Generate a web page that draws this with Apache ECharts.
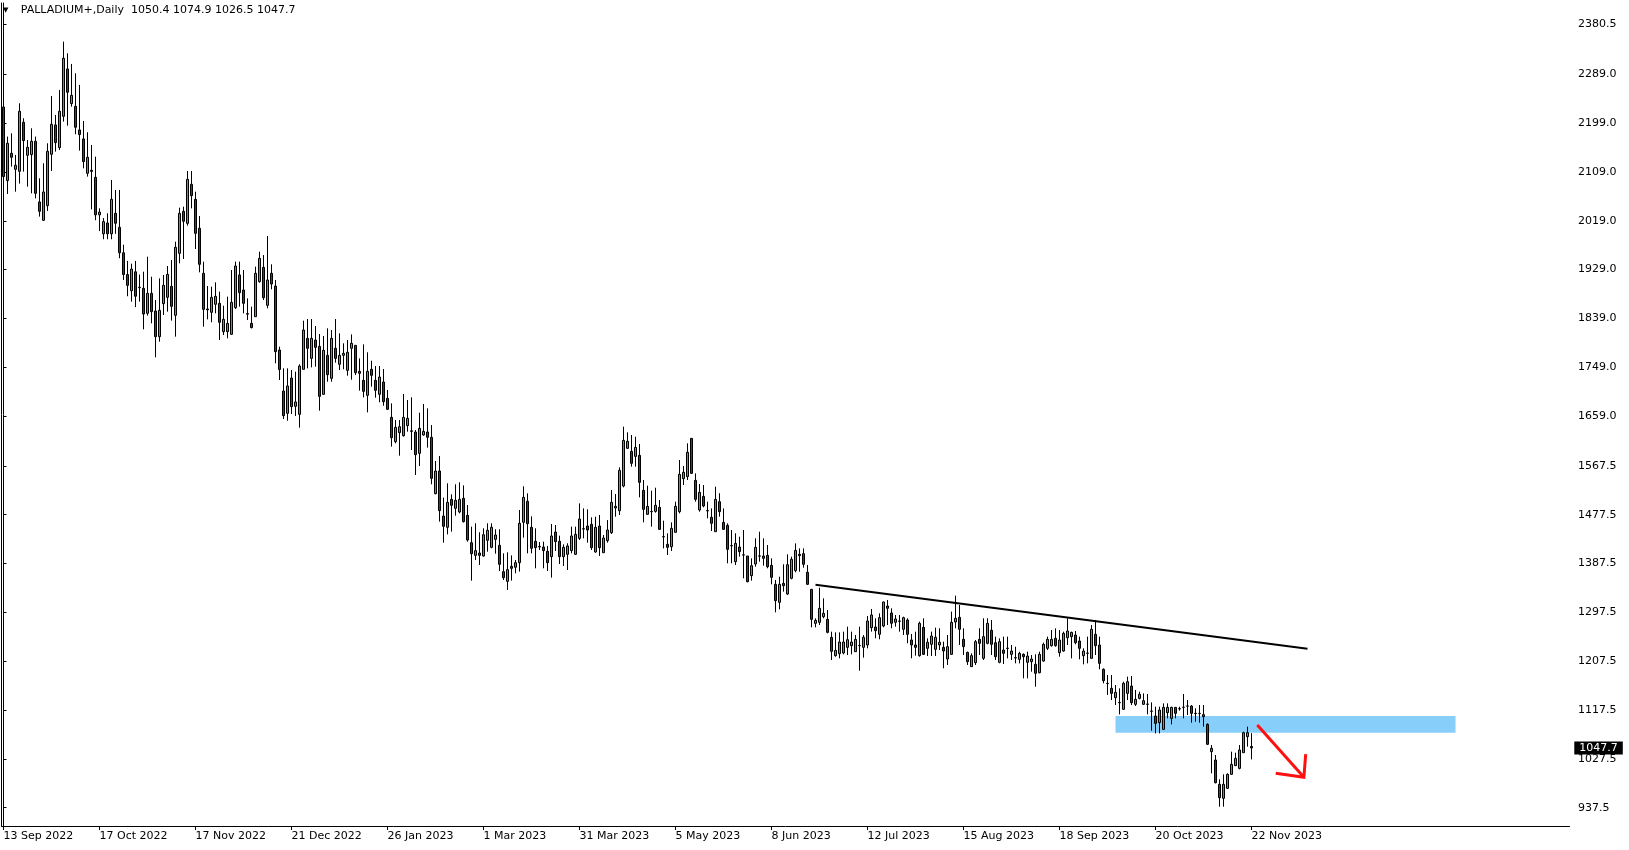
<!DOCTYPE html>
<html><head><meta charset="utf-8">
<script src="https://cdn.jsdelivr.net/npm/echarts@6/dist/echarts.min.js"></script>
<style>html,body{margin:0;padding:0;background:#fff;}#c{width:1629px;height:850px;}</style>
</head><body><div id="c"></div>
<script>
const headerText = 'PALLADIUM+,Daily  1050.4 1074.9 1026.5 1047.7';
const dateLabels = ['13 Sep 2022','17 Oct 2022','17 Nov 2022','21 Dec 2022','26 Jan 2023','1 Mar 2023','31 Mar 2023','5 May 2023','8 Jun 2023','12 Jul 2023','15 Aug 2023','18 Sep 2023','20 Oct 2023','22 Nov 2023'];
const priceTicks = [937.5,1027.5,1117.5,1207.5,1297.5,1387.5,1477.5,1567.5,1659.0,1749.0,1839.0,1929.0,2019.0,2109.0,2199.0,2289.0,2380.5];

const opens = [
2228.7,2093.0,2143.4,2113.9,2110.2,2200.5,2139.7,2140.9,2165.5,2053.7,
2019.9,2046.9,2141.5,2195.6,2153.8,2211.5,2298.8,2234.9,2229.9,2186.4,
2169.8,2106.5,2112.0,2099.1,2030.0,1995.0,2015.0,1995.0,2032.8,2007.0,
1960.0,1920.0,1890.0,1925.0,1896.5,1894.5,1848.5,1885.3,1852.8,1805.5,
1866.3,1877.9,1898.2,1844.8,1959.0,2036.4,2014.3,2086.2,2058.5,2005.1,
1922.2,1856.5,1850.3,1865.1,1866.9,1814.7,1814.7,1809.8,1858.9,1919.1,
1891.5,1848.0,1830.0,1842.3,1906.8,1933.2,1863.2,1922.2,1898.8,1780.9,
1705.3,1664.2,1729.3,1677.1,1662.3,1745.3,1802.4,1765.5,1799.3,1787.6,
1699.2,1771.1,1728.7,1784.0,1754.5,1771.1,1743.4,1784.0,1789.5,1741.6,
1725.0,1697.4,1745.3,1725.0,1699.2,1721.9,1691.8,1656.8,1612.0,1628.6,
1623.0,1641.5,1632.0,1629.8,1590.5,1624.3,1629.8,1620.0,1516.2,1557.9,
1475.0,1454.2,1505.7,1489.2,1482.4,1507.6,1476.3,1425.9,1402.5,1406.9,
1401.3,1430.2,1417.3,1432.0,1421.0,1372.5,1354.6,1382.3,1380.5,1389.0,
1463.4,1502.1,1454.2,1428.4,1419.0,1417.9,1409.9,1400.1,1445.5,1428.4,
1400.1,1404.4,1411.2,1404.4,1433.9,1451.5,1456.6,1459.7,1408.7,1456.6,
1407.4,1429.6,1444.3,1489.8,1484.8,1530.3,1599.7,1594.2,1584.9,1586.8,
1522.3,1478.1,1483.5,1483.6,1491.0,1437.0,1422.8,1418.5,1444.9,1483.0,
1543.8,1547.5,1618.1,1540.7,1486.1,1511.2,1485.0,1472.6,1446.1,1501.4,
1463.3,1457.8,1420.6,1390.9,1417.9,1403.0,1401.3,1365.1,1386.6,1401.0,
1401.3,1402.5,1384.1,1349.1,1315.9,1350.9,1331.3,1360.2,1374.3,1404.4,
1405.6,1371.2,1339.9,1277.2,1279.1,1289.5,1284.6,1251.4,1217.7,1221.3,
1222.6,1233.0,1236.1,1225.0,1236.5,1233.0,1237.4,1269.3,1270.5,1257.0,
1272.4,1309.2,1296.3,1279.1,1281.6,1266.2,1283.4,1246.6,1237.4,1217.7,
1269.9,1231.2,1238.6,1229.4,1237.4,1233.0,1211.6,1220.1,1279.7,1288.3,
1247.8,1223.8,1197.4,1204.8,1247.8,1212.8,1240.4,1264.4,1241.6,1205.4,
1228.1,1231.0,1220.1,1214.0,1210.9,1220.1,1205.4,1206.6,1201.7,1186.3,
1207.8,1231.2,1236.1,1249.6,1223.2,1226.2,1250.8,1252.7,1255.7,1244.7,
1217.6,1222.5,1212.7,1256.9,1237.3,1192.5,1166.7,1157.5,1140.3,1131.5,
1118.8,1148.2,1161.7,1128.0,1139.0,1128.0,1128.0,1115.6,1106.5,1094.2,
1081.9,1112.6,1102.2,1122.4,1120.0,1122.4,1125.0,1124.9,1111.5,1111.4,
1109.0,1091.1,1040.8,1025.4,980.6,954.8,973.2,999.0,1015.0,1010.0,
1038.9,1068.4,1050.4];
const highs = [
2272.3,2174.1,2180.2,2140.3,2235.5,2207.9,2167.9,2189.4,2174.1,2097.3,
2124.9,2161.8,2249.0,2214.0,2260.1,2349.1,2327.6,2308.0,2290.8,2269.3,
2202.9,2182.1,2158.7,2137.2,2042.0,2024.0,2032.8,2094.2,2075.8,2075.8,
1975.0,1945.0,1940.0,1945.0,1920.0,1925.2,1952.9,1916.0,1873.0,1912.9,
1919.1,1935.7,1946.7,1980.5,2043.2,2045.0,2110.7,2110.7,2072.6,2027.8,
1943.7,1898.8,1897.6,1905.6,1888.4,1862.6,1879.2,1928.3,1943.7,1943.7,
1928.3,1876.1,1860.8,1934.5,1962.1,1955.9,1991.0,1938.8,1909.9,1787.0,
1747.1,1747.1,1744.0,1741.0,1754.5,1834.9,1838.0,1838.0,1825.1,1810.4,
1806.7,1820.8,1817.7,1838.0,1811.6,1793.2,1799.3,1809.7,1789.5,1765.5,
1791.3,1776.6,1761.2,1751.4,1751.4,1745.9,1707.2,1682.6,1651.9,1651.9,
1699.8,1688.8,1693.7,1633.5,1665.4,1681.4,1673.4,1642.7,1576.4,1585.6,
1508.8,1535.2,1515.0,1533.4,1537.1,1531.5,1495.3,1455.4,1461.5,1445.0,
1452.3,1461.5,1461.5,1450.5,1450.5,1406.2,1408.1,1402.5,1393.9,1486.1,
1529.7,1516.8,1474.4,1452.3,1427.1,1427.7,1419.8,1460.3,1458.4,1438.8,
1422.8,1424.7,1455.4,1455.4,1498.3,1489.1,1487.3,1472.6,1473.8,1476.9,
1440.0,1467.6,1522.9,1515.6,1564.7,1639.6,1629.2,1624.3,1621.2,1607.7,
1541.3,1530.9,1521.7,1527.2,1504.5,1466.4,1443.1,1463.3,1501.4,1578.2,
1567.1,1608.9,1618.1,1553.6,1534.0,1532.1,1501.4,1489.1,1529.1,1517.0,
1489.1,1461.5,1449.2,1443.1,1436.9,1449.2,1401.3,1397.0,1433.9,1446.1,
1433.9,1421.6,1397.0,1357.1,1363.2,1386.0,1404.4,1400.1,1424.6,1415.4,
1415.4,1384.7,1339.9,1286.4,1342.9,1323.3,1301.8,1261.9,1260.6,1260.6,
1261.9,1271.1,1261.9,1255.7,1271.1,1255.7,1290.8,1303.7,1286.5,1295.7,
1317.2,1320.3,1304.9,1292.6,1292.6,1289.5,1286.5,1257.6,1261.9,1280.3,
1286.5,1249.6,1261.9,1269.3,1268.1,1243.5,1255.8,1298.8,1328.2,1311.1,
1268.1,1225.1,1222.0,1246.6,1268.1,1286.5,1286.5,1283.4,1252.7,1249.6,
1252.7,1252.7,1237.3,1234.2,1225.0,1221.9,1225.0,1218.9,1220.1,1225.0,
1241.6,1252.7,1264.9,1268.0,1264.9,1261.9,1286.4,1261.9,1263.1,1252.7,
1231.2,1252.7,1274.2,1283.4,1252.7,1194.3,1182.0,1182.0,1163.6,1157.5,
1169.7,1179.0,1180.2,1154.4,1151.3,1148.2,1147.0,1131.6,1123.7,1123.7,
1129.8,1129.8,1123.7,1123.0,1123.7,1147.0,1136.0,1126.7,1120.6,1126.7,
1126.7,1092.9,1053.0,1034.6,989.8,999.0,1000.8,1040.8,1038.9,1053.0,
1077.6,1086.8,1074.9];
const lows = [
2085.0,2068.4,2118.8,2072.7,2087.5,2109.6,2082.0,2069.6,2060.4,2026.7,
2018.7,2037.1,2110.8,2146.4,2149.5,2201.7,2194.3,2229.3,2178.4,2148.3,
2115.7,2100.4,2040.0,2020.0,2000.0,1985.0,1985.0,1985.0,1995.0,1950.0,
1910.0,1880.0,1870.0,1860.0,1870.0,1819.0,1844.2,1830.0,1767.4,1796.3,
1845.4,1851.5,1835.0,1805.5,1940.6,1948.6,2010.0,2041.9,1967.0,1924.0,
1823.9,1837.4,1831.9,1848.5,1799.3,1808.5,1802.4,1808.5,1856.5,1860.8,
1848.5,1836.2,1820.8,1842.0,1905.0,1873.0,1857.7,1892.7,1756.3,1725.6,
1653.7,1650.7,1663.0,1659.3,1637.8,1745.0,1747.1,1748.9,1750.2,1669.1,
1698.0,1722.5,1722.5,1757.5,1744.0,1745.3,1733.6,1726.2,1734.8,1706.0,
1693.7,1666.0,1713.3,1693.1,1684.5,1678.3,1670.3,1602.8,1608.9,1586.2,
1621.2,1630.4,1596.6,1550.6,1567.1,1623.0,1601.0,1533.4,1515.0,1464.6,
1425.9,1441.2,1446.2,1475.6,1479.9,1463.0,1427.7,1355.9,1393.9,1384.8,
1400.0,1409.3,1415.5,1405.6,1373.7,1357.1,1338.7,1355.9,1369.4,1372.5,
1435.1,1406.2,1406.2,1378.6,1412.4,1378.6,1373.7,1361.4,1410.5,1386.6,
1382.9,1375.5,1406.2,1403.2,1430.8,1433.9,1425.9,1412.4,1407.4,1401.3,
1407.0,1425.9,1441.8,1473.8,1476.9,1527.8,1598.5,1565.9,1565.9,1509.4,
1463.3,1476.9,1455.4,1481.2,1449.2,1415.4,1403.2,1410.5,1444.9,1479.9,
1532.1,1541.3,1552.4,1501.4,1483.0,1491.0,1470.7,1447.4,1446.0,1473.8,
1449.2,1387.8,1387.8,1384.7,1400.1,1360.2,1352.8,1355.9,1381.6,1390.9,
1383.5,1378.6,1349.1,1297.5,1303.0,1335.6,1329.4,1358.3,1371.2,1372.4,
1379.8,1347.9,1269.9,1269.9,1274.2,1286.4,1258.8,1209.7,1215.8,1212.7,
1220.1,1218.9,1220.1,1225.0,1190.0,1214.0,1231.2,1261.9,1249.6,1247.8,
1269.9,1274.2,1268.1,1271.1,1261.9,1255.8,1240.4,1212.8,1217.7,1215.8,
1218.9,1217.1,1217.1,1217.1,1228.1,1194.4,1200.5,1218.9,1268.1,1237.4,
1218.9,1200.5,1197.0,1200.5,1218.9,1209.7,1238.6,1218.9,1209.7,1203.6,
1202.3,1212.7,1209.7,1203.5,1203.5,1175.9,1175.9,1188.2,1160.5,1185.1,
1206.6,1228.1,1234.2,1234.2,1215.8,1225.0,1237.3,1212.7,1238.5,1210.9,
1201.7,1203.5,1212.7,1218.9,1192.5,1166.7,1145.2,1135.9,1126.7,1109.5,
1117.5,1135.9,1126.7,1124.9,1137.2,1126.7,1109.5,1079.4,1074.5,1074.5,
1080.7,1102.2,1091.1,1102.2,1116.3,1102.2,1108.3,1094.2,1096.0,1094.2,
1086.8,1053.0,1000.8,982.4,939.4,939.4,972.0,997.8,1014.3,1008.2,
1038.9,1050.0,1026.5];
const closes = [
2100.4,2161.8,2136.0,2121.3,2220.8,2166.7,2154.4,2165.5,2069.6,2036.5,
2072.1,2147.1,2196.8,2163.0,2220.8,2318.4,2255.8,2250.2,2191.3,2177.8,
2128.0,2136.0,2110.0,2030.0,2035.0,2017.5,1995.0,2058.6,2014.4,1960.0,
1920.0,1900.0,1930.0,1880.0,1895.8,1847.2,1885.3,1851.5,1805.5,1854.0,
1900.1,1920.3,1861.4,1970.1,2032.7,2018.0,2095.4,2065.3,1995.9,1938.8,
1855.8,1855.0,1877.9,1879.8,1831.9,1837.4,1830.0,1868.7,1935.7,1886.5,
1866.9,1847.0,1822.1,1922.2,1949.8,1877.3,1909.9,1902.5,1777.8,1745.0,
1659.9,1714.6,1676.5,1685.1,1751.4,1817.7,1784.0,1802.4,1785.8,1695.5,
1780.3,1735.4,1802.4,1765.5,1771.1,1774.7,1776.6,1793.2,1739.1,1737.9,
1704.7,1741.6,1734.2,1706.6,1731.1,1685.7,1671.6,1619.3,1638.4,1639.6,
1656.8,1655.0,1631.0,1588.0,1636.5,1631.0,1620.0,1544.4,1557.9,1484.9,
1456.0,1500.2,1494.7,1503.9,1505.7,1464.6,1430.8,1405.6,1411.2,1402.5,
1440.6,1448.6,1454.2,1440.0,1386.0,1361.4,1376.2,1378.6,1389.0,1461.5,
1509.4,1460.9,1415.5,1416.7,1418.0,1411.2,1389.0,1438.2,1427.7,1400.1,
1417.3,1419.8,1438.2,1441.2,1469.5,1451.0,1449.2,1416.7,1454.1,1416.7,
1434.5,1449.2,1500.2,1492.8,1559.2,1614.4,1612.6,1572.1,1601.5,1537.0,
1487.3,1492.8,1483.0,1494.7,1450.4,1436.5,1417.3,1452.3,1492.8,1551.8,
1555.5,1592.3,1553.6,1505.7,1518.6,1493.4,1484.5,1461.5,1505.7,1483.0,
1450.4,1413.6,1420.0,1424.6,1409.3,1403.5,1354.0,1383.5,1417.3,1401.5,
1397.0,1381.6,1362.0,1319.0,1349.1,1346.6,1385.3,1395.2,1411.7,1401.9,
1386.0,1349.1,1284.6,1282.8,1304.9,1295.7,1260.6,1225.6,1227.5,1242.8,
1242.8,1247.1,1242.8,1247.7,1236.0,1251.4,1281.6,1292.6,1263.7,1287.7,
1316.6,1304.9,1277.3,1285.2,1281.0,1287.7,1257.0,1237.4,1233.0,1277.3,
1220.1,1242.3,1253.9,1251.5,1242.3,1226.3,1234.3,1279.1,1286.5,1266.2,
1234.3,1206.6,1217.7,1243.5,1240.4,1252.7,1277.3,1238.6,1215.8,1243.5,
1222.0,1231.5,1226.2,1213.5,1221.9,1215.8,1217.0,1211.5,1185.1,1220.1,
1238.5,1247.7,1247.7,1236.1,1246.5,1258.8,1263.1,1260.6,1241.6,1231.2,
1226.2,1222.0,1266.2,1236.1,1203.5,1171.6,1166.2,1148.2,1150.1,1131.0,
1166.7,1169.7,1131.0,1137.2,1146.4,1134.7,1128.5,1115.2,1093.0,1117.5,
1122.4,1122.4,1122.4,1111.4,1119.5,1122.8,1124.7,1111.4,1111.0,1111.0,
1105.2,1054.3,1046.9,983.6,956.0,980.6,999.0,1017.4,1028.5,1043.8,
1075.8,1075.8,1047.7];

const lastPrice = 1047.7;
const trendLine = [[203, 1348.4], [326, 1230.3]];
const zoneCorners = [[278, 1106.5], [363, 1075.7]];
const arrowShaft = [[313.45, 1089.9], [325.1, 993.5]];
const arrowHead = [[318.05, 1000.9], [325.1, 993.5], [325.55, 1036.4]];

const SLOTS = 392, LABEL_STEP = 24, FONT = 'DejaVu Sans';
const cats = Array.from({length: SLOTS}, (_, i) => 'b' + i);
const candleData = opens.map((o, i) => [o, closes[i], lows[i], highs[i]]);
const isLabel = (i) => i % LABEL_STEP === 0 && (i / LABEL_STEP) < dateLabels.length;

const chart = echarts.init(document.getElementById('c'), null, {renderer: 'canvas'});
chart.setOption({
  animation: false,
  backgroundColor: '#ffffff',
  title: {
    left: 3, top: 5, padding: 0,
    text: '{tri|▼}{txt|' + headerText + '}',
    textStyle: {fontWeight: 'normal', rich: {
      tri: {fontSize: 7, width: 17.7, fontFamily: FONT, color: '#000', fontWeight: 'normal'},
      txt: {fontSize: 11, fontFamily: FONT, color: '#000', fontWeight: 'normal'}
    }}
  },
  grid: {left: 1.5, width: 1568, top: 3, bottom: 24, containLabel: false},
  xAxis: [
    {type: 'category', data: cats, boundaryGap: true,
     axisLine: {show: true, lineStyle: {color: '#000', width: 1}},
     axisTick: {show: true, alignWithLabel: true, length: 4, interval: (i) => isLabel(i), lineStyle: {color: '#000'}},
     axisLabel: {interval: (i) => isLabel(i), formatter: (v, i) => dateLabels[Math.round(i / LABEL_STEP)] || '',
                 align: 'left', margin: 5, color: '#000', fontFamily: FONT, fontSize: 11},
     splitLine: {show: false}},
    {type: 'value', min: -0.5, max: SLOTS - 0.5, show: false}
  ],
  yAxis: [
    {type: 'value', position: 'right', offset: 2.5, min: 903.8, max: 2420.3,
     axisLine: {show: true, lineStyle: {color: '#000'}},
     axisTick: {show: true, length: 3, customValues: priceTicks, lineStyle: {color: '#000'}},
     axisLabel: {customValues: priceTicks, formatter: (v) => v.toFixed(1), margin: 6, color: '#000', fontFamily: FONT, fontSize: 11},
     splitLine: {show: false}},
    {type: 'value', position: 'left', min: 903.8, max: 2420.3,
     axisLine: {show: true, lineStyle: {color: '#000'}}, axisTick: {show: false}, axisLabel: {show: false}, splitLine: {show: false}}
  ],
  series: [
    {type: 'line', xAxisIndex: 1, yAxisIndex: 0, data: trendLine, symbol: 'none', silent: true, z: 1,
     lineStyle: {color: '#000', width: 2},
     markArea: {silent: true, itemStyle: {color: '#87CEFA', opacity: 1},
       data: [[{coord: zoneCorners[0]}, {coord: zoneCorners[1]}]]}},
    {type: 'candlestick', xAxisIndex: 0, yAxisIndex: 0, data: candleData, barWidth: 2, z: 3,
     itemStyle: {color: '#00DD00', color0: '#DD0000', borderColor: '#000', borderColor0: '#000', borderColorDoji: '#000', borderWidth: 1},
     emphasis: {disabled: true},
     markLine: {silent: true, symbol: ['none', 'none'], lineStyle: {color: 'transparent', width: 0},
       label: {position: 'end', distance: 4.8, formatter: lastPrice.toFixed(1), color: '#fff', backgroundColor: '#000',
               padding: [0, 5, 0, 5], fontFamily: FONT, fontSize: 11, lineHeight: 13},
       data: [{yAxis: lastPrice}]}},
    {type: 'lines', coordinateSystem: 'cartesian2d', xAxisIndex: 1, yAxisIndex: 0, polyline: true, silent: true, z: 4,
     lineStyle: {color: '#FF1010', width: 3, opacity: 1},
     data: [{coords: arrowShaft}, {coords: arrowHead}]}
  ]
});
</script></body></html>
